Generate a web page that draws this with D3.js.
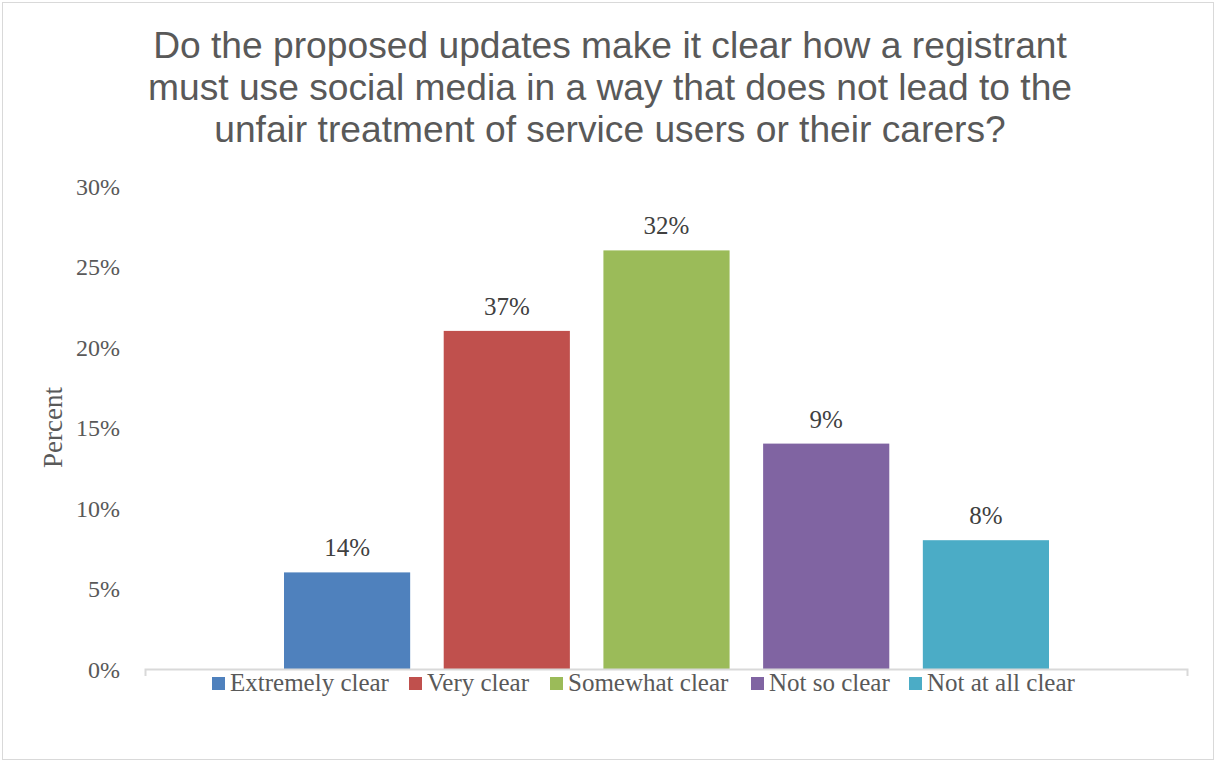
<!DOCTYPE html>
<html>
<head>
<meta charset="utf-8">
<script src="https://cdn.jsdelivr.net/npm/d3@7"></script>
<style>
  body { margin: 0; background: #fff; }
  svg text { font-family: "Liberation Serif", "DejaVu Serif", serif; }
</style>
</head>
<body>
<svg width="1216" height="762"></svg>
<script>
var categories = ["Extremely clear", "Very clear", "Somewhat clear", "Not so clear", "Not at all clear"];
var values = [6, 21, 26, 14, 8];
var labels = ["14%", "37%", "32%", "9%", "8%"];
var colors = ["#4F81BD", "#C0504D", "#9BBB59", "#8064A2", "#4BACC6"];
var yTicks = [0, 5, 10, 15, 20, 25, 30];
var titleLines = [
  "Do the proposed updates make it clear how a registrant",
  "must use social media in a way that does not lead to the",
  "unfair treatment of service users or their carers?"
];

var svg = d3.select("svg"),
    width = +svg.attr("width"),
    height = +svg.attr("height");

// chart frame
svg.append("rect")
   .attr("x", 2.5).attr("y", 2.5)
   .attr("width", width - 5).attr("height", height - 5)
   .attr("fill", "#fff")
   .attr("stroke", "#d9d9d9");

var plotLeft = 145, plotRight = 1187, plotTop = 186, plotBottom = 669;

var y = d3.scaleLinear().domain([0, 30]).range([plotBottom, plotTop]);

// one category, five series clustered in the middle
var x = d3.scaleBand()
          .domain(categories)
          .range([284, 1049])
          .paddingInner(0.21)
          .paddingOuter(0);

// title
svg.append("g")
   .selectAll("text")
   .data(titleLines)
   .enter().append("text")
   .attr("x", 610)
   .attr("y", function(d, i) { return 58 + i * 42; })
   .attr("text-anchor", "middle")
   .style("font-family", "'Liberation Sans', Arial, sans-serif")
   .style("font-size", "37.2px")
   .attr("fill", "#595959")
   .text(function(d) { return d; });

// y axis labels
var yAxis = svg.append("g")
   .attr("transform", "translate(" + (plotLeft - 22) + ",0)")
   .call(d3.axisLeft(y).tickValues(yTicks).tickSize(0).tickFormat(function(d) { return d + "%"; }));
yAxis.select(".domain").remove();
yAxis.selectAll("text")
     .style("font-family", "'Liberation Serif', serif")
     .style("font-size", "24px")
     .attr("fill", "#595959")
     .attr("dy", "0.35em");

svg.append("text")
   .attr("transform", "translate(62," + ((plotTop + plotBottom) / 2) + ") rotate(-90)")
   .attr("text-anchor", "middle")
   .style("font-size", "27px")
   .attr("fill", "#595959")
   .text("Percent");

// bars
svg.append("g")
   .selectAll("rect")
   .data(values)
   .enter().append("rect")
   .attr("x", function(d, i) { return x(categories[i]); })
   .attr("y", function(d) { return y(d); })
   .attr("width", x.bandwidth())
   .attr("height", function(d) { return y(0) - y(d); })
   .attr("fill", function(d, i) { return colors[i]; });

// data labels
svg.append("g")
   .selectAll("text")
   .data(values)
   .enter().append("text")
   .attr("x", function(d, i) { return x(categories[i]) + x.bandwidth() / 2; })
   .attr("y", function(d) { return y(d) - 16; })
   .attr("text-anchor", "middle")
   .style("font-size", "25px")
   .attr("fill", "#404040")
   .text(function(d, i) { return labels[i]; });

// x axis line with end ticks
svg.append("path")
   .attr("d", "M" + (plotLeft + 0.5) + "," + (plotBottom + 7) + "V" + (plotBottom + 0.5) + "H" + (plotRight + 0.5) + "V" + (plotBottom + 7))
   .attr("fill", "none")
   .attr("stroke", "#d9d9d9")
   .attr("stroke-width", 2);

// legend
var legendX = [212, 409, 550, 751, 909];
var legend = svg.append("g")
   .selectAll("g")
   .data(categories)
   .enter().append("g")
   .attr("transform", function(d, i) { return "translate(" + legendX[i] + ",677)"; });

legend.append("rect")
      .attr("width", 13).attr("height", 13)
      .attr("fill", function(d, i) { return colors[i]; });

legend.append("text")
      .attr("x", 18)
      .attr("y", 14)
      .style("font-size", "25px")
      .attr("fill", "#595959")
      .text(function(d) { return d; });
</script>
</body>
</html>
